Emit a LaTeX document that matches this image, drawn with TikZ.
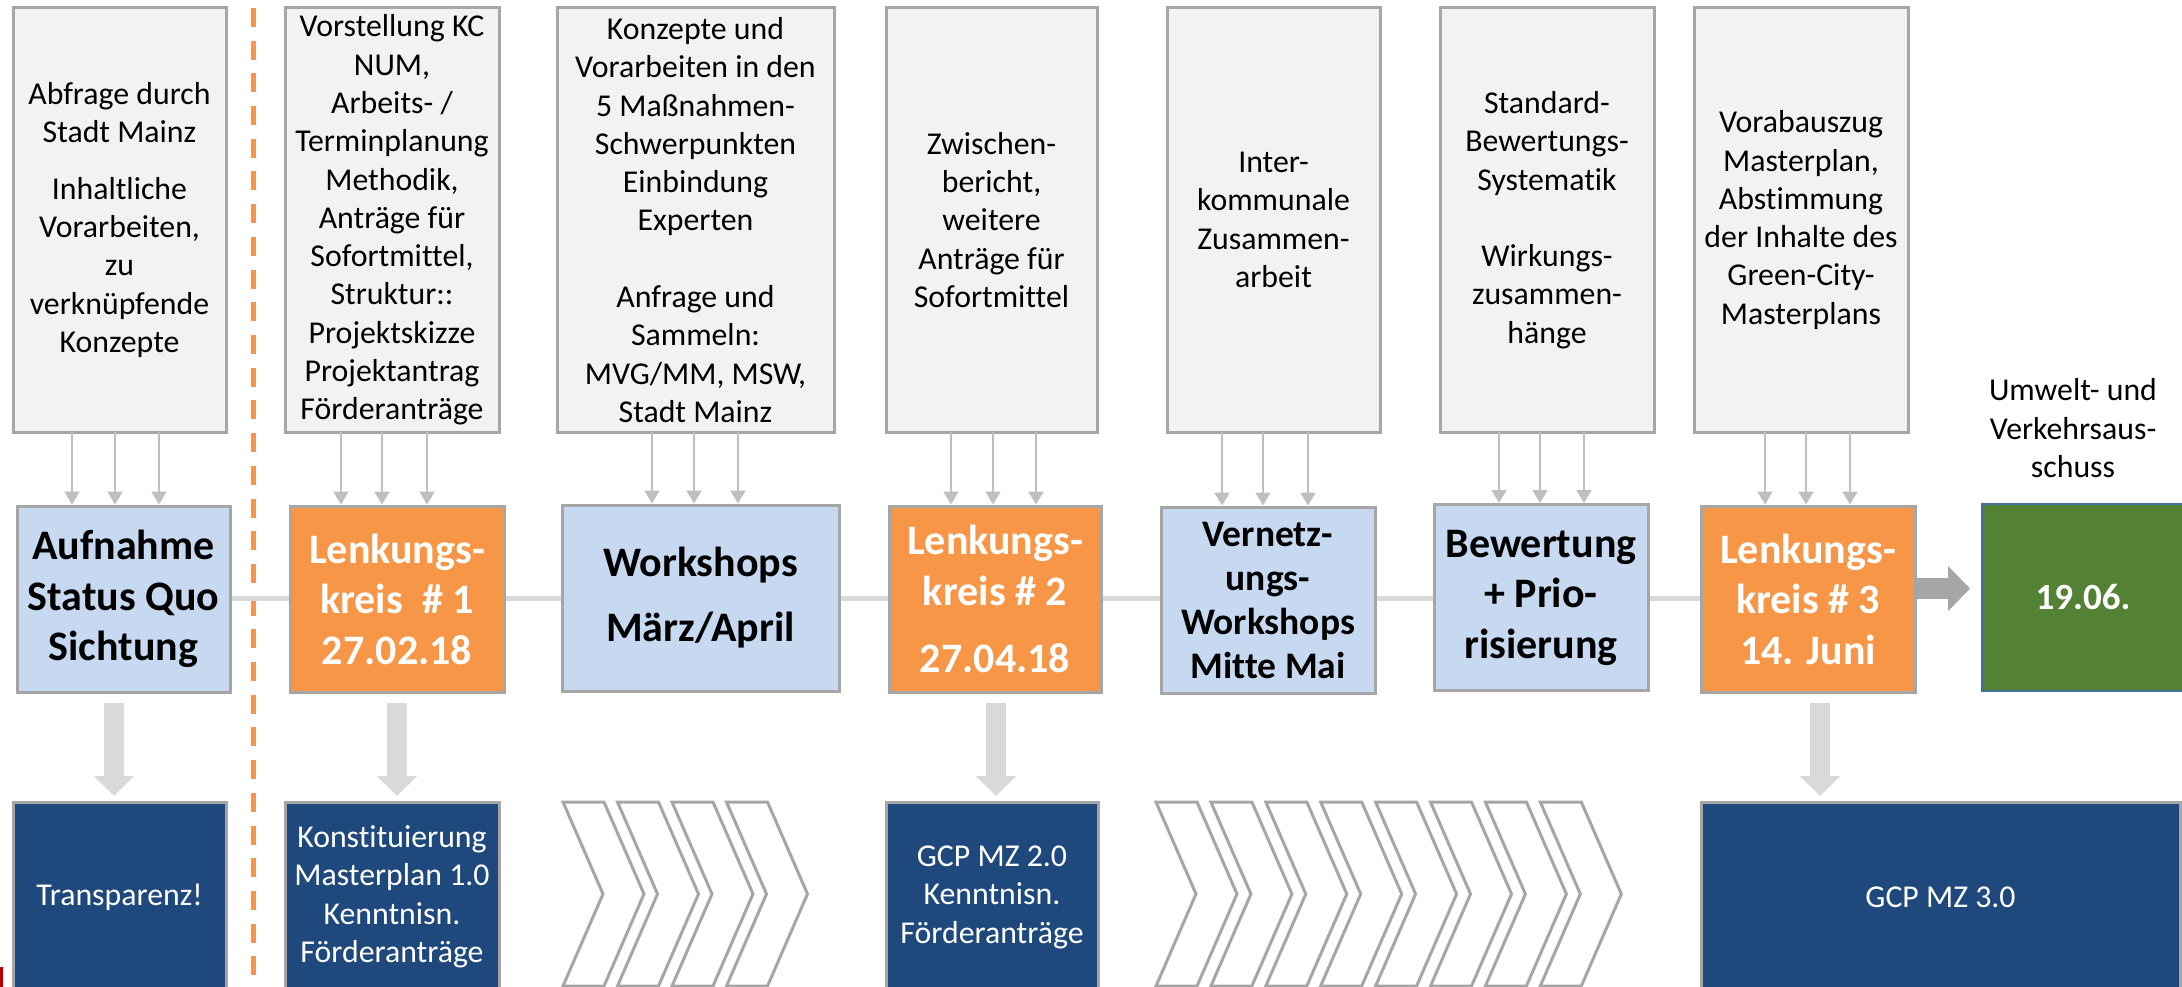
\documentclass[tikz,border=0pt]{standalone}
\usepackage{fontspec}
\setmainfont{Carlito}[Ligatures={TeX,NoCommon}]
\usetikzlibrary{arrows.meta}
\definecolor{boxgray}{HTML}{F2F2F2}
\definecolor{edgegray}{HTML}{A6A6A6}
\definecolor{lightblue}{HTML}{C6D9F1}
\definecolor{orangeF}{HTML}{F79646}
\definecolor{darkblue}{HTML}{1F497D}
\definecolor{greenF}{HTML}{548235}
\definecolor{greenedge}{HTML}{41719C}
\definecolor{conn}{HTML}{D9D9D9}
\definecolor{smallarr}{HTML}{BFBFBF}
\definecolor{redmark}{HTML}{C00000}
\begin{document}
\begin{tikzpicture}[x=1pt,y=-1pt,
  box/.style={draw=edgegray, line width=3pt, inner sep=0pt, outer sep=0pt, align=center},
  topbox/.style={box, fill=boxgray, minimum height=424pt, font=\fontsize{31.8}{38.3}\selectfont},
  midbox/.style={box, minimum height=186pt, font=\bfseries\fontsize{42}{50.5}\selectfont},
  phase/.style={midbox, fill=lightblue},
  lk/.style={midbox, fill=orangeF, text=white},
  outbox/.style={box, fill=darkblue, text=white, minimum height=190pt, font=\fontsize{31.8}{38.5}\selectfont},
  link/.style={draw=conn, line width=5pt, shorten <=1.5pt, shorten >=1.5pt},
  feed/.style={draw=smallarr, line width=2pt, shorten >=1.5pt, -{Triangle[width=15pt,length=13pt]}},
  result/.style={draw=conn, line width=20pt, -{Triangle[width=39pt,length=20pt]}},
  chev/.style={draw=edgegray, line width=3pt, fill=white, line join=miter}
]
\useasboundingbox (0,0) rectangle (2182,987);

% dashed separator
\coordinate (d1) at (253.5,8);
\coordinate (d2) at (253.5,990);
\draw[orangeF, line width=5pt, dash pattern=on 19pt off 13.7pt] (d1) -- (d2);

% top boxes
\node[topbox, minimum width=213pt] (T1) at (119.5,220) {Abfrage durch\\Stadt Mainz\\[18pt]Inhaltliche\\Vorarbeiten,\\zu\\verknüpfende\\Konzepte};
\node[topbox, minimum width=214pt] (T2) at (392,220) {Vorstellung KC\\NUM,\\Arbeits- /\\Terminplanung\\Methodik,\\Anträge für\\Sofortmittel,\\Struktur::\\Projektskizze\\Projektantrag\\Förderanträge};
\node[topbox, minimum width=277pt] (T3) at (695.5,220) {Konzepte und\\Vorarbeiten in den\\5 Maßnahmen-\\Schwerpunkten\\Einbindung\\Experten\\[38.3pt]Anfrage und\\Sammeln:\\MVG/MM, MSW,\\Stadt Mainz};
\node[topbox, minimum width=211pt] (T4) at (991.5,220) {Zwischen-\\bericht,\\weitere\\Anträge für\\Sofortmittel};
\node[topbox, minimum width=213pt] (T5) at (1273.5,220) {Inter-\\kommunale\\Zusammen-\\arbeit};
\node[topbox, minimum width=214pt] (T6) at (1547,220) {Standard-\\Bewertungs-\\Systematik\\[38.3pt]Wirkungs-\\zusammen-\\hänge};
\node[topbox, minimum width=214pt] (T7) at (1801,220) {Vorabauszug\\Masterplan,\\Abstimmung\\der Inhalte des\\Green-City-\\Masterplans};

% middle row
\node[phase, minimum width=213pt] (M1) at (123.5,599) {Aufnahme\\Status Quo\\Sichtung};
\node[lk, minimum width=214pt] (M2) at (397,599) {Lenkungs-\\kreis~~\# 1\\27.02.18};
\node[phase, minimum width=277pt] (M3) at (700.5,598) {Workshops\\[14.5pt]März/April};
\node[lk, minimum width=212pt] (M4) at (995,599) {Lenkungs-\\kreis \# 2\\[17pt]27.04.18};
\node[phase, minimum width=214pt, font=\bfseries\fontsize{37.5}{44}\selectfont] (M5) at (1268,600) {Vernetz-\\ungs-\\Workshops\\Mitte Mai};
\node[phase, minimum width=214pt] (M6) at (1541,597.5) {Bewertung\\+ Prio-\\risierung};
\node[lk, minimum width=214pt] (M7) at (1808,599) {Lenkungs-\\kreis \# 3\\14. Juni};
\node[box, draw=greenedge, line width=1.5pt, fill=greenF, text=white, minimum width=202pt, minimum height=187pt, font=\bfseries\fontsize{37}{44}\selectfont] (M8) at (2083,597.5) {19.06.};

\node[align=center, font=\fontsize{31.8}{38.5}\selectfont] (U) at (2073,428.5) {Umwelt- und\\Verkehrsaus-\\schuss};

% bottom row
\node[outbox, minimum width=213pt] (B1) at (119.5,897) {Transparenz!};
\node[outbox, minimum width=214pt] (B2) at (392,897) {Konstituierung\\Masterplan 1.0\\Kenntnisn.\\Förderanträge};
\node[outbox, minimum width=212pt] (B3) at (992,897) {GCP MZ 2.0\\Kenntnisn.\\Förderanträge};
\node[outbox, minimum width=479pt] (B4) at (1940.5,897) {GCP MZ 3.0};

% chevrons
\foreach \x in {563,617.5,672,726.5} {
  \draw[chev] (\x,802) -- ++(41,0) -- ++(40,92) -- ++(-40,92) -- ++(-41,0) -- ++(40,-92) -- cycle;
}
\foreach \i in {0,...,7} {
  \pgfmathsetmacro\xx{1156+54.9*\i}
  \draw[chev] (\xx,802) -- ++(41,0) -- ++(40,92) -- ++(-40,92) -- ++(-41,0) -- ++(40,-92) -- cycle;
}

% links between middle boxes
\coordinate (h) at (0,598.5);
\foreach \a/\b in {M1/M2, M2/M3, M3/M4, M4/M5, M5/M6, M6/M7} {
  \draw[link] (\a.east |- h) -- (\b.west |- h);
}

% small feed arrows
\foreach \t/\m/\a/\b/\c in {T1/M1/72/115/159, T2/M2/341/382/427, T3/M3/652/694/738, T4/M4/951/993/1036, T5/M5/1222/1263/1308, T6/M6/1499/1540/1584, T7/M7/1765/1806/1850} {
  \foreach \x in {\a,\b,\c} {
    \coordinate (f) at (\x,0);
    \draw[feed] (\t.south -| f) -- (\m.north -| f);
  }
}

% big down arrows
\foreach \m/\b/\x in {M1/B1/114, M2/B2/397, M4/B3/996, M7/B4/1820} {
  \coordinate (g) at (\x,0);
  \draw[result, shorten <=11pt, shorten >=6pt] (\m.south -| g) -- (\b.north -| g);
}

% arrow to committee
\coordinate (r) at (0,588.5);
\draw[draw=edgegray, line width=21pt, -{Triangle[width=44pt,length=22pt]}, shorten <=2pt, shorten >=12pt] (M7.east |- r) -- (M8.west |- r);

% red mark
\fill[redmark] (0,967) rectangle (3,987);
\end{tikzpicture}
\end{document}
